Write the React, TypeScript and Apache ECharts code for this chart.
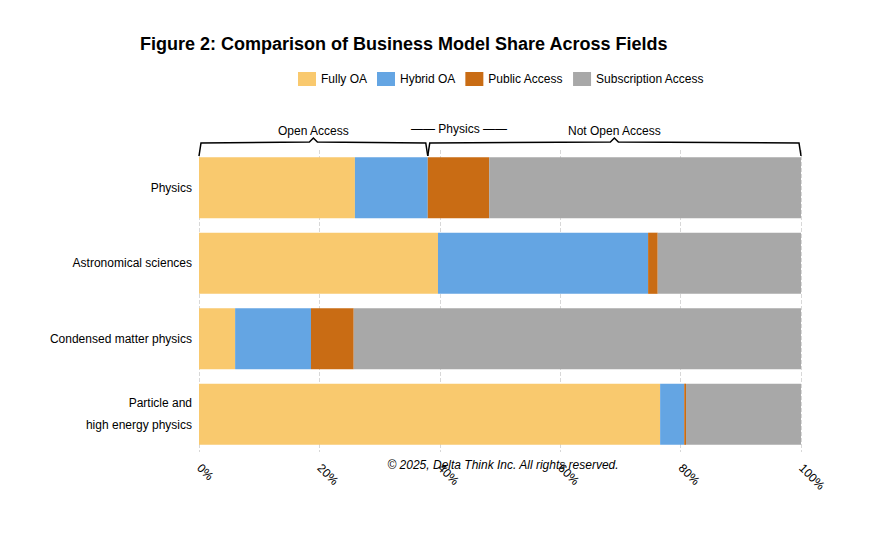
import * as echarts from "echarts";
import { useEffect, useRef } from "react";

const categories = ["Physics", "Astronomical sciences", "Condensed matter physics", "Particle and\nhigh energy physics"];
const fullyOA = [25.9, 39.7, 6.0, 76.6];
const hybridOA = [12.1, 34.9, 12.6, 4.0];
const publicAccess = [10.2, 1.6, 7.1, 0.3];
const subscription = [51.8, 23.8, 74.3, 19.1];
const seriesNames = ["Fully OA", "Hybrid OA", "Public Access", "Subscription Access"];
const colors = ["#F9C96E", "#64A5E3", "#C96C14", "#A8A8A8"];

export default function App() {
  const ref = useRef<HTMLDivElement>(null);

  useEffect(() => {
    const chart = echarts.init(ref.current!, null, { renderer: "svg" });
    const font = "Liberation Sans, Arial, sans-serif";
    chart.setOption({
      animation: false,
      textStyle: { fontFamily: font },
      title: {
        text: "Figure 2: Comparison of Business Model Share Across Fields",
        left: 127,
        top: 22,
        textStyle: { fontSize: 18, fontWeight: "bold", color: "#000" },
      },
      legend: {
        top: 59,
        left: 285,
        icon: "rect",
        itemWidth: 18,
        itemHeight: 14,
        itemGap: 10,
        textStyle: { fontSize: 12, color: "#000" },
        data: seriesNames,
      },
      grid: { left: 191, right: 66, top: 142, bottom: 91 },
      xAxis: {
        type: "value",
        min: 0,
        max: 100,
        interval: 20,
        axisLabel: { formatter: "{value}%", rotate: -45, fontSize: 12, color: "#000", margin: 14 },
        splitLine: { show: true, lineStyle: { type: "dashed", color: "#D8D8D8" } },
        axisLine: { show: false },
        axisTick: { show: false },
      },
      yAxis: {
        type: "category",
        inverse: true,
        data: categories,
        axisLine: { show: false },
        axisTick: { show: false },
        axisLabel: { fontSize: 12, color: "#000", margin: 7, lineHeight: 22 },
      },
      series: [fullyOA, hybridOA, publicAccess, subscription].map((d, i) => ({
        name: seriesNames[i],
        type: "bar",
        stack: "total",
        data: d,
        barWidth: "81%",
        itemStyle: { color: colors[i] },
      })),
    });

    const x0 = chart.convertToPixel({ xAxisIndex: 0 }, 0) as number;
    const xm = chart.convertToPixel({ xAxisIndex: 0 }, fullyOA[0] + hybridOA[0]) as number;
    const x1 = chart.convertToPixel({ xAxisIndex: 0 }, 100) as number;
    const yb = 142, yt = 134;
    const brace = (a: number, b: number) => ({
      type: "polyline",
      shape: { points: [[a, yb + 6], [a + 2, yt + 1], [(a + b) / 2 - 4, yt], [(a + b) / 2, yt - 4], [(a + b) / 2 + 4, yt], [b - 2, yt + 1], [b, yb + 6]] },
      style: { stroke: "#000", lineWidth: 1.5, fill: null },
    });
    const txt = (x: number, y: number, t: string) => ({
      type: "text",
      x,
      y,
      style: { text: t, fontSize: 12, fill: "#000", fontFamily: font, align: "center", verticalAlign: "middle" },
    });
    chart.setOption({
      graphic: [
        brace(x0, xm),
        brace(xm, x1),
        txt((x0 + xm) / 2, 123, "Open Access"),
        txt((xm + x1) / 2, 123, "Not Open Access"),
        txt(451, 121, "—— Physics ——"),
        {
          type: "text",
          x: 495,
          y: 457,
          style: { text: "© 2025, Delta Think Inc. All rights reserved.", fontSize: 12, fontStyle: "italic", fill: "#000", fontFamily: font, align: "center", verticalAlign: "middle" },
        },
      ],
    });
    return () => chart.dispose();
  }, []);

  return <div ref={ref} style={{ width: 859, height: 535 }} />;
}
